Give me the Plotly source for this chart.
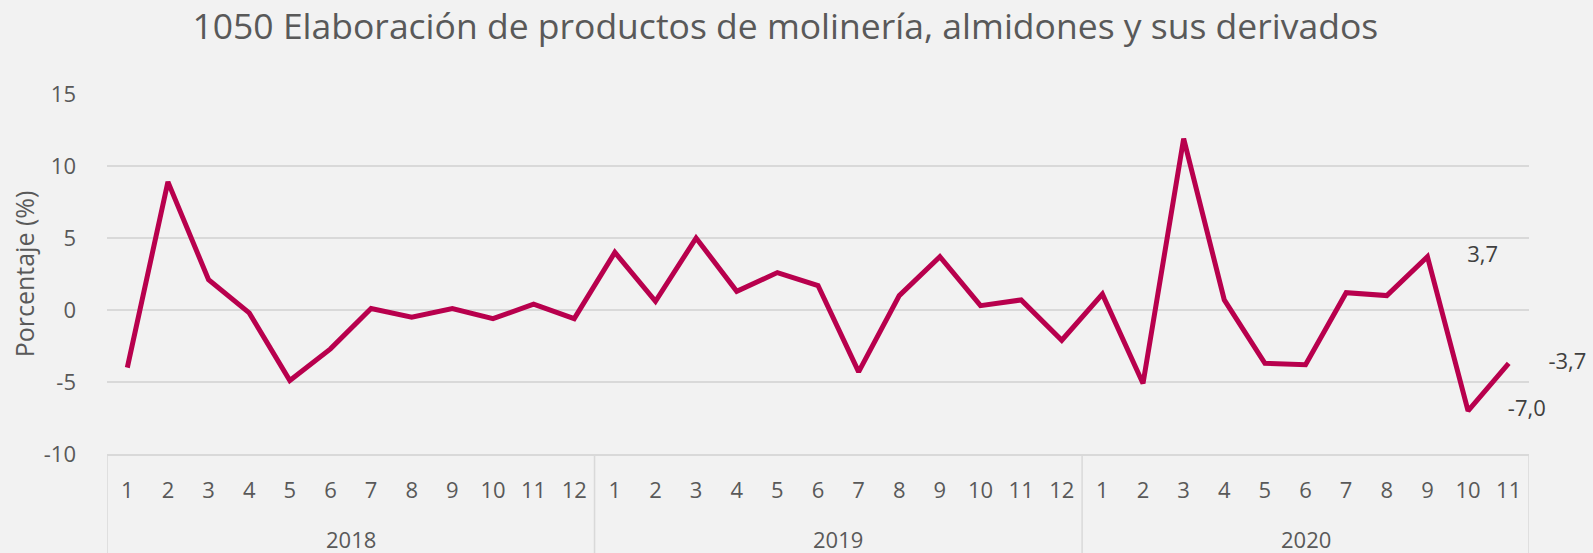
import plotly.graph_objects as go

years = ["2018"] * 12 + ["2019"] * 12 + ["2020"] * 11
months = [str(m) for m in range(1, 13)] * 2 + [str(m) for m in range(1, 12)]
values = [-4.0, 8.9, 2.1, -0.2, -4.9, -2.7, 0.1, -0.5, 0.1, -0.6, 0.4, -0.6,
          4.0, 0.6, 5.0, 1.3, 2.6, 1.7, -4.3, 1.0, 3.7, 0.3, 0.7, -2.1,
          1.1, -5.1, 11.9, 0.7, -3.7, -3.8, 1.2, 1.0, 3.7, -7.0, -3.7]
label_idx = [32, 33, 34]

title_text = "1050 Elaboración de productos de molinería, almidones y sus derivados"
y_title = "Porcentaje (%)"
y_ticks = [-10, -5, 0, 5, 10, 15]
y_ticktext = ["-10", "-5", "0", "5", "10", "15"]

LINE = "#B8004D"
TXT = "#595959"
GRID = "#D9D9D9"
BG = "#F2F2F2"
FONT = "Open Sans"

idx = list(range(len(values)))

fig = go.Figure()
fig.add_trace(go.Scatter(
    x=idx, y=values, mode="lines",
    line=dict(color=LINE, width=5), showlegend=False, hoverinfo="skip"))

lx = [idx[i] for i in label_idx]
ly = [values[i] for i in label_idx]
lt = [f"{values[i]:.1f}".replace(".", ",") for i in label_idx]
fig.add_trace(go.Scatter(
    x=lx, y=ly, mode="markers+text", text=lt, textposition="middle right",
    textfont=dict(family=FONT, size=22, color="#404040"),
    marker=dict(size=62, color="rgba(0,0,0,0)"), cliponaxis=False,
    showlegend=False, hoverinfo="skip"))

# year groups: labels centred on their months, dividers at group boundaries
groups = []
for i, yv in enumerate(years):
    if not groups or groups[-1][0] != yv:
        groups.append([yv, i, i])
    else:
        groups[-1][2] = i

boundaries = [groups[0][1] - 0.5] + [g[2] + 0.5 for g in groups]
for b in boundaries:
    fig.add_shape(type="line", xref="x", yref="paper", x0=b, x1=b, y0=-0.28, y1=0,
                  line=dict(color=GRID, width=1.5), layer="below")
for name, i0, i1 in groups:
    fig.add_annotation(x=(i0 + i1) / 2, y=-0.236, xref="x", yref="paper",
                       text=name, showarrow=False, yanchor="middle",
                       font=dict(family=FONT, size=22, color=TXT))

fig.update_layout(
    width=1593, height=553,
    paper_bgcolor=BG, plot_bgcolor=BG,
    margin=dict(l=107, r=64, t=94, b=99),
    font=dict(family=FONT, color=TXT),
    title=dict(text=title_text, x=0.493, xanchor="center", y=0.952, yanchor="middle",
               font=dict(family=FONT, size=35.5, color=TXT)),
    xaxis=dict(range=[-0.5, len(values) - 0.5], tickvals=idx, ticktext=months,
               showgrid=False, zeroline=False, automargin=False,
               showline=True, linecolor=GRID, linewidth=1.5,
               tickfont=dict(family=FONT, size=22, color=TXT),
               ticklabelstandoff=16, ticks=""),
    yaxis=dict(range=[-10, 15], tickvals=y_ticks, ticktext=y_ticktext,
               showgrid=True, gridcolor=GRID, gridwidth=1.5, automargin=False,
               zeroline=False, showline=False,
               tickfont=dict(family=FONT, size=22, color=TXT),
               ticklabelstandoff=30,
               title=dict(text=y_title, standoff=2,
                          font=dict(family=FONT, size=25, color=TXT))),
)

fig.write_html("out.html", config={"displayModeBar": False},
               post_script="document.body.style.margin='0';"
                           "document.body.style.background='#F2F2F2';")
